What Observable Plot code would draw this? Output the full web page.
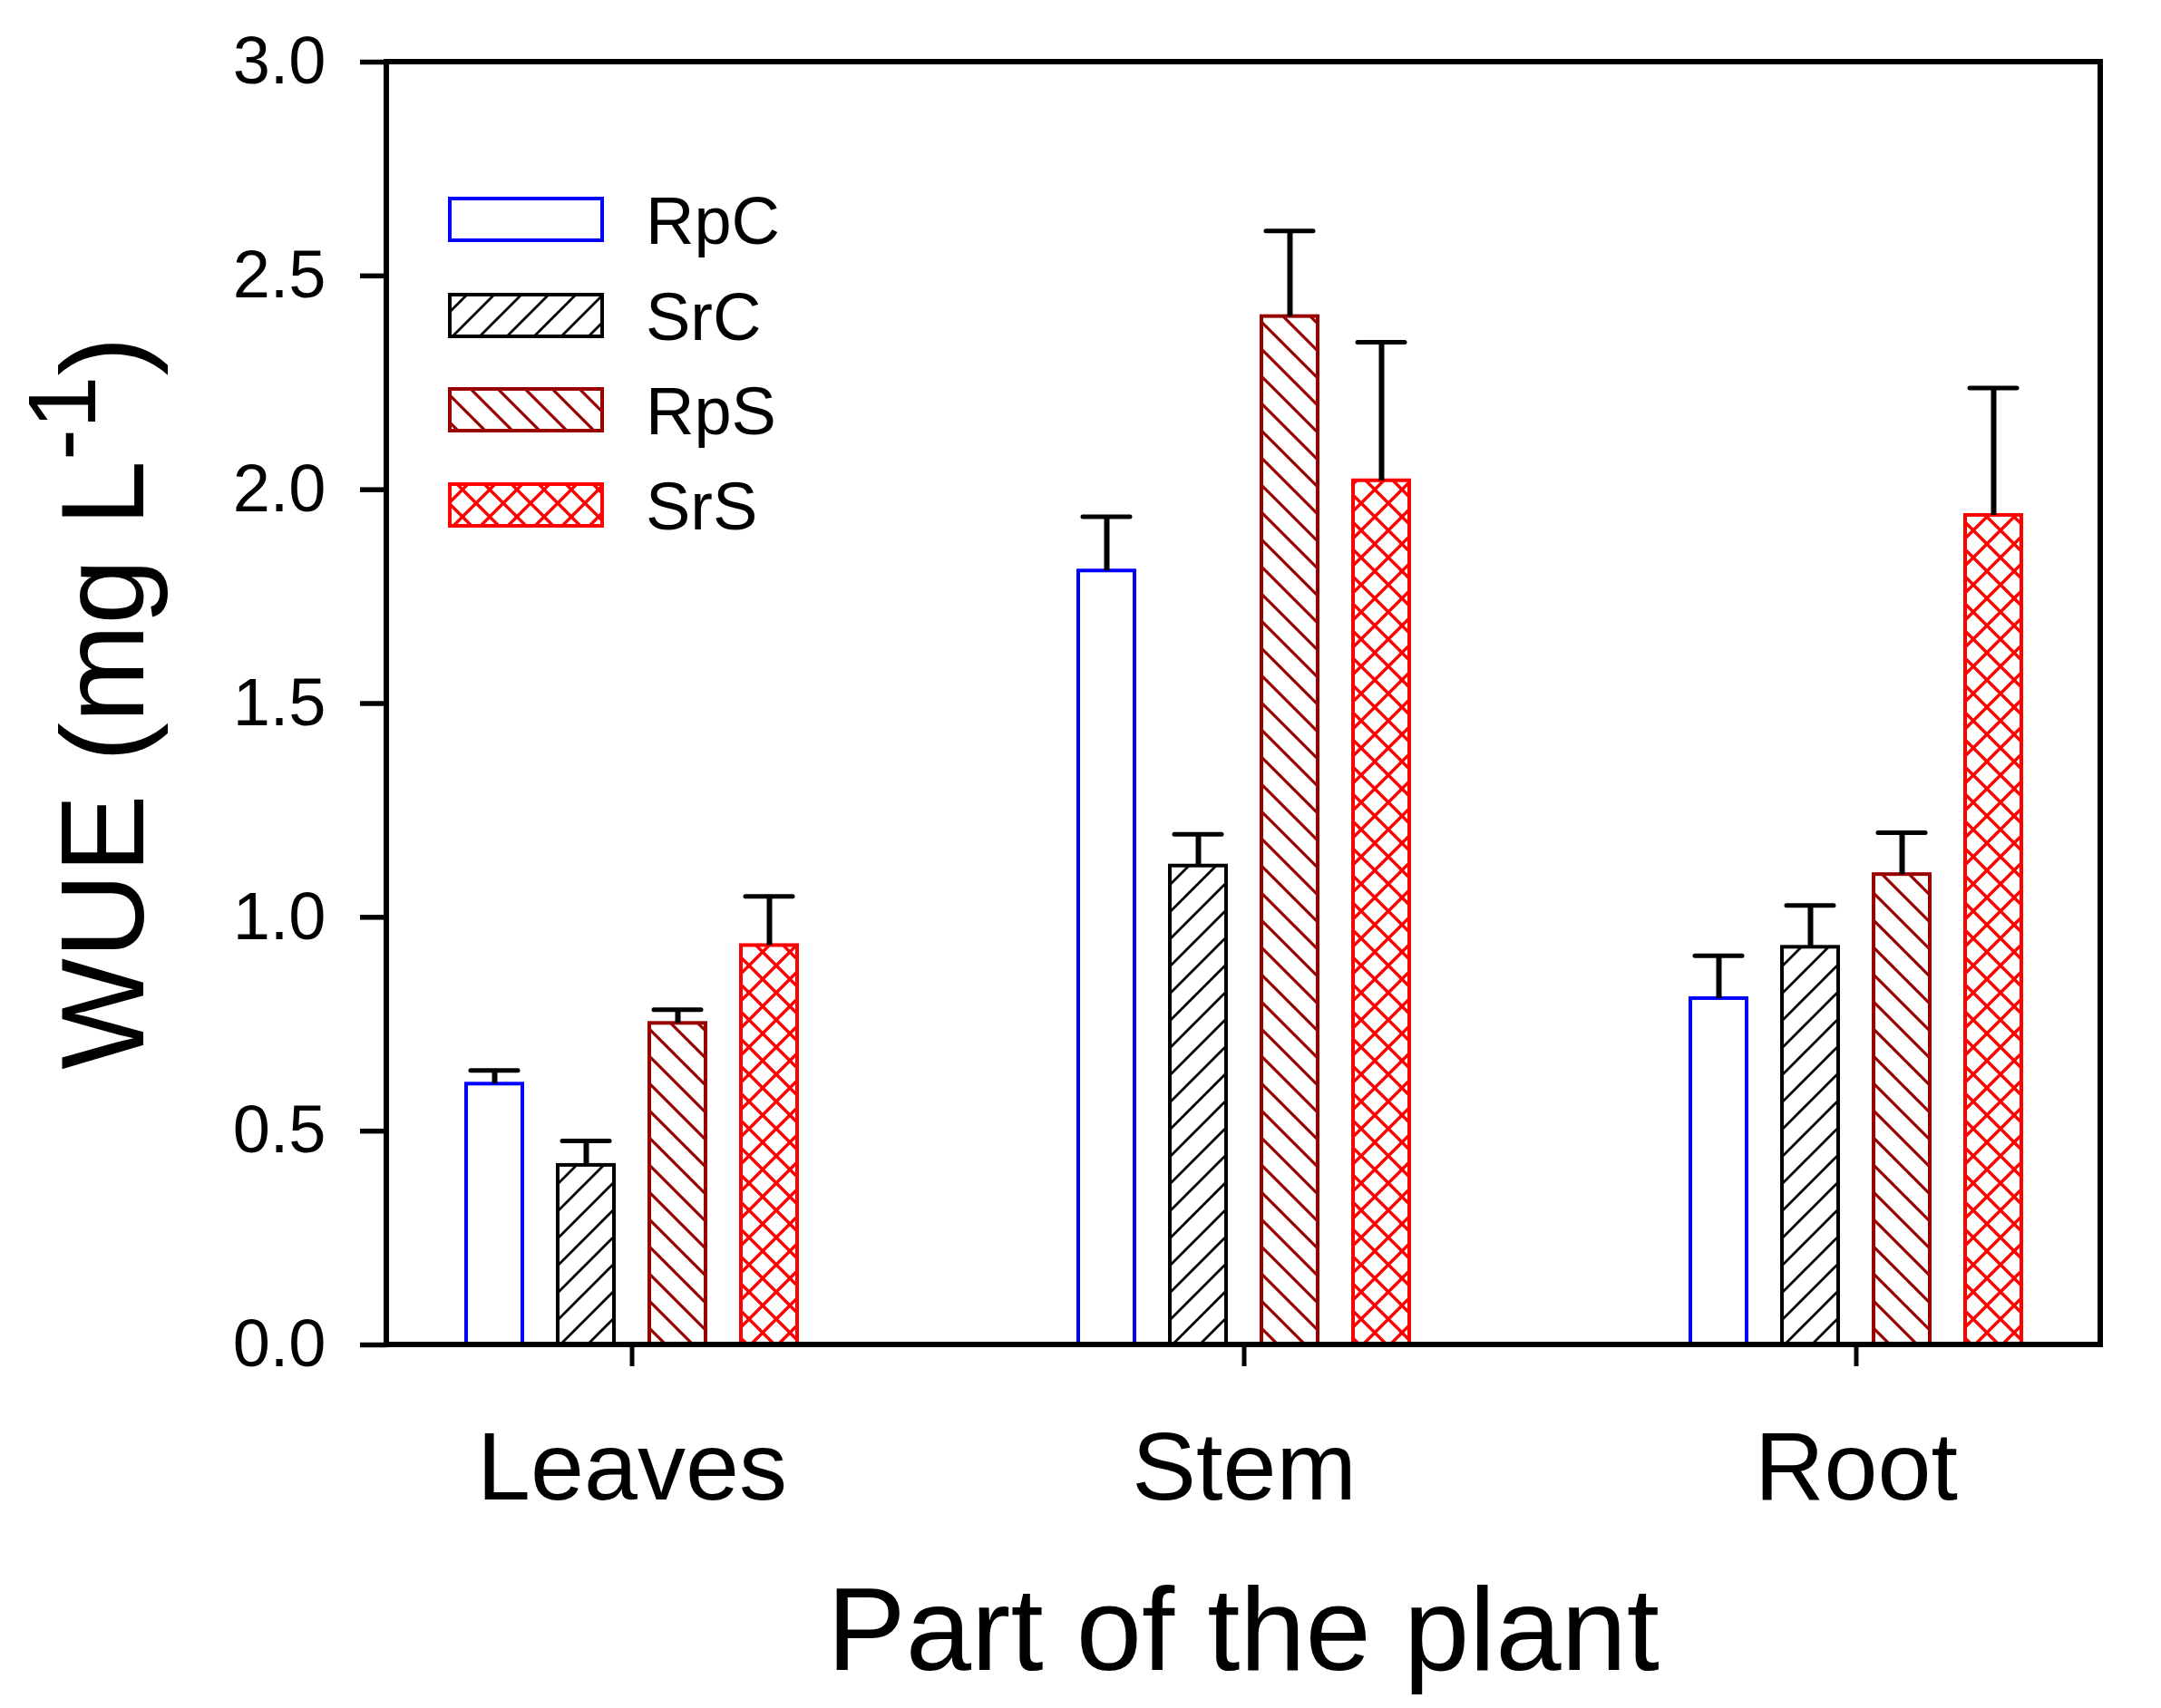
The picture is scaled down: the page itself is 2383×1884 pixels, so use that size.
<!DOCTYPE html>
<html><head><meta charset="utf-8">
<script src="https://cdn.jsdelivr.net/npm/d3@7"></script>
<script src="https://cdn.jsdelivr.net/npm/@observablehq/plot@0.6"></script>
<style>html,body{margin:0;padding:0;background:#fff;} svg{display:block}</style>
</head><body><div id="chart"></div>
<script>
// ---- data ----
const parts = ["Leaves", "Stem", "Root"];
const series = ["RpC", "SrC", "RpS", "SrS"];
const RpC = [0.61, 1.81, 0.81];
const SrC = [0.42, 1.12, 0.93];
const RpS = [0.752, 2.405, 1.10];
const SrS = [0.934, 2.021, 1.94];
const RpC_err = [0.032, 0.127, 0.10];
const SrC_err = [0.057, 0.074, 0.098];
const RpS_err = [0.032, 0.20, 0.098];
const SrS_err = [0.115, 0.324, 0.298];
const yTicks = [0, 0.5, 1.0, 1.5, 2.0, 2.5, 3.0];
const xTitle = "Part of the plant";

const values = {RpC, SrC, RpS, SrS};
const errs = {RpC: RpC_err, SrC: SrC_err, RpS: RpS_err, SrS: SrS_err};
const strokeOf = {RpC: "#0000ff", SrC: "#000000", RpS: "#990000", SrS: "#ff0000"};
const fillOf = {RpC: "#ffffff", SrC: "url(#hatch-SrC)", RpS: "url(#hatch-RpS)", SrS: "url(#hatch-SrS)"};

const rows = [];
series.forEach(s => parts.forEach((p, i) => rows.push({part: p, series: s, value: values[s][i], err: errs[s][i]})));

const W = 2383, H = 1884, mL = 426, mR = 67, mT = 68, mB = 401;
const FONT = "'Liberation Sans', Arial, Helvetica, sans-serif";

const chart = Plot.plot({
  width: W, height: H,
  marginLeft: mL, marginRight: mR, marginTop: mT, marginBottom: mB,
  style: {fontFamily: FONT, color: "black", background: "white"},
  fx: {domain: parts, paddingInner: 0.202, paddingOuter: 0, label: null},
  x: {domain: series, paddingInner: 0.386, paddingOuter: 0.861, axis: null},
  y: {domain: [0, 3]},
  marks: [
    ...series.map(s => Plot.barY(rows.filter(d => d.series === s), {
      fx: "part", x: "series", y: "value",
      fill: fillOf[s], stroke: strokeOf[s], strokeWidth: 4
    })),
    Plot.ruleX(rows, {fx: "part", x: "series", y1: "value", y2: d => d.value + d.err, stroke: "black", strokeWidth: 6}),
    Plot.tickY(rows, {fx: "part", x: "series", y: d => d.value + d.err, stroke: "black", strokeWidth: 5, insetLeft: 5, insetRight: 5, strokeLinecap: "round"}),
    Plot.axisY({ticks: yTicks, tickFormat: d3.format(".1f"), tickSize: 30, tickPadding: 38, fontSize: 74, strokeWidth: 5.5, label: null}),
    Plot.axisFx({anchor: "bottom", tickSize: 24, tickPadding: 71, fontSize: 106, strokeWidth: 5, label: null})
  ]
});
document.getElementById("chart").appendChild(chart);

// ---- patterns, frame, titles, legend ----
const svg = d3.select(chart);
const defs = svg.insert("defs", ":first-child");
function pat(id, d, color, sw) {
  const p = defs.append("pattern").attr("id", id).attr("patternUnits", "userSpaceOnUse")
    .attr("width", 30).attr("height", 30);
  p.append("rect").attr("width", 30).attr("height", 30).attr("fill", "white");
  p.append("path").attr("d", d).attr("stroke", color).attr("stroke-width", sw).attr("fill", "none");
}
const fwd = "M-7.5,7.5L7.5,-7.5M0,30L30,0M22.5,37.5L37.5,22.5";
const bwd = "M-7.5,22.5L7.5,37.5M0,0L30,30M22.5,-7.5L37.5,7.5";
pat("hatch-SrC", fwd, "#000000", 2.8);
pat("hatch-RpS", bwd, "#990000", 3.2);
pat("hatch-SrS", fwd + bwd, "#ff0000", 3.4);

svg.append("rect").attr("x", mL).attr("y", mT).attr("width", W - mL - mR).attr("height", H - mT - mB)
  .attr("fill", "none").attr("stroke", "black").attr("stroke-width", 6);

svg.append("text").attr("x", mL + (W - mL - mR) / 2).attr("y", 1842)
  .attr("text-anchor", "middle").attr("font-size", 130).attr("font-family", FONT).attr("fill", "black")
  .text(xTitle);

const yt = svg.append("text").attr("transform", `translate(158,${mT + (H - mT - mB) / 2}) rotate(-90)`)
  .attr("text-anchor", "middle").attr("font-size", 130).attr("font-family", FONT).attr("fill", "black");
yt.append("tspan").text("WUE (mg L");
yt.append("tspan").attr("font-size", 105).attr("dy", -53).text("-1");
yt.append("tspan").attr("dy", 53).text(")");

const leg = svg.append("g").attr("font-family", FONT).attr("font-size", 74).attr("text-anchor", "start");
const legTops = [219, 325, 429, 534];
series.forEach((s, i) => {
  leg.append("rect").attr("x", 496).attr("y", legTops[i]).attr("width", 168).attr("height", 46)
    .attr("fill", fillOf[s]).attr("stroke", strokeOf[s]).attr("stroke-width", 4);
  leg.append("text").attr("x", 712).attr("y", legTops[i] + 23).attr("dy", "0.36em")
    .attr("text-anchor", "start").attr("fill", "black").text(s);
});
</script></body></html>
